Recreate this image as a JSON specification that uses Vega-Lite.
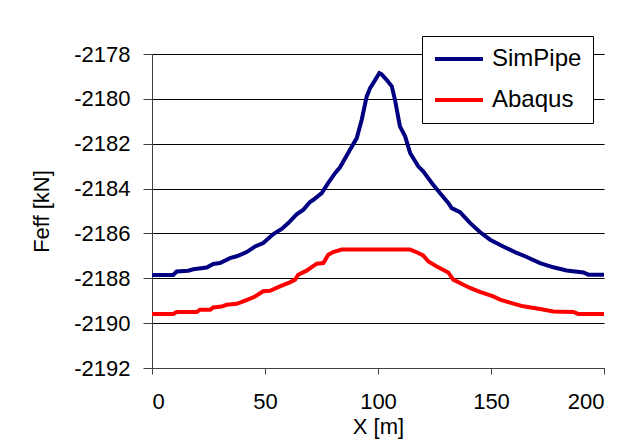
{
  "$schema": "https://vega.github.io/schema/vega-lite/v6.json",
  "autosize": "none",
  "width": 452,
  "height": 314,
  "padding": {"left": 152, "top": 54, "right": 21, "bottom": 75},
  "background": "white",
  "config": {
    "view": {"stroke": null},
    "font": "Liberation Sans",
    "axis": {"labelFont": "Liberation Sans", "titleFont": "Liberation Sans", "labelColor": "black", "titleColor": "black", "titleFontWeight": "normal"},
    "legend": {"labelFont": "Liberation Sans"}
  },
  "data": {
    "values": [
      {"x": 0, "F": -2187.85, "s": "SimPipe"},
      {"x": 9.4, "F": -2187.85, "s": "SimPipe"},
      {"x": 10.9, "F": -2187.7, "s": "SimPipe"},
      {"x": 16, "F": -2187.66, "s": "SimPipe"},
      {"x": 18.3, "F": -2187.6, "s": "SimPipe"},
      {"x": 24.2, "F": -2187.52, "s": "SimPipe"},
      {"x": 27.1, "F": -2187.36, "s": "SimPipe"},
      {"x": 30.1, "F": -2187.32, "s": "SimPipe"},
      {"x": 34.5, "F": -2187.1, "s": "SimPipe"},
      {"x": 37.5, "F": -2187.02, "s": "SimPipe"},
      {"x": 41.9, "F": -2186.83, "s": "SimPipe"},
      {"x": 45.6, "F": -2186.58, "s": "SimPipe"},
      {"x": 49.2, "F": -2186.43, "s": "SimPipe"},
      {"x": 53.7, "F": -2186.03, "s": "SimPipe"},
      {"x": 57.4, "F": -2185.8, "s": "SimPipe"},
      {"x": 60.3, "F": -2185.54, "s": "SimPipe"},
      {"x": 64, "F": -2185.15, "s": "SimPipe"},
      {"x": 67, "F": -2184.94, "s": "SimPipe"},
      {"x": 69.9, "F": -2184.6, "s": "SimPipe"},
      {"x": 71.4, "F": -2184.5, "s": "SimPipe"},
      {"x": 75.1, "F": -2184.2, "s": "SimPipe"},
      {"x": 78, "F": -2183.75, "s": "SimPipe"},
      {"x": 81, "F": -2183.31, "s": "SimPipe"},
      {"x": 83.2, "F": -2183.05, "s": "SimPipe"},
      {"x": 87.6, "F": -2182.27, "s": "SimPipe"},
      {"x": 90.6, "F": -2181.75, "s": "SimPipe"},
      {"x": 92.8, "F": -2180.93, "s": "SimPipe"},
      {"x": 95, "F": -2179.89, "s": "SimPipe"},
      {"x": 96.5, "F": -2179.52, "s": "SimPipe"},
      {"x": 98.5, "F": -2179.2, "s": "SimPipe"},
      {"x": 100.6, "F": -2178.85, "s": "SimPipe"},
      {"x": 101.5, "F": -2178.9, "s": "SimPipe"},
      {"x": 103.8, "F": -2179.15, "s": "SimPipe"},
      {"x": 106.1, "F": -2179.44, "s": "SimPipe"},
      {"x": 107.5, "F": -2180.04, "s": "SimPipe"},
      {"x": 109.7, "F": -2181.23, "s": "SimPipe"},
      {"x": 112, "F": -2181.67, "s": "SimPipe"},
      {"x": 114.2, "F": -2182.41, "s": "SimPipe"},
      {"x": 117.8, "F": -2183.01, "s": "SimPipe"},
      {"x": 120, "F": -2183.23, "s": "SimPipe"},
      {"x": 123.8, "F": -2183.75, "s": "SimPipe"},
      {"x": 127.4, "F": -2184.2, "s": "SimPipe"},
      {"x": 131.1, "F": -2184.64, "s": "SimPipe"},
      {"x": 132.6, "F": -2184.87, "s": "SimPipe"},
      {"x": 136.3, "F": -2185.05, "s": "SimPipe"},
      {"x": 140.7, "F": -2185.53, "s": "SimPipe"},
      {"x": 145.1, "F": -2185.94, "s": "SimPipe"},
      {"x": 149.6, "F": -2186.28, "s": "SimPipe"},
      {"x": 155.4, "F": -2186.58, "s": "SimPipe"},
      {"x": 161.4, "F": -2186.87, "s": "SimPipe"},
      {"x": 165.8, "F": -2187.05, "s": "SimPipe"},
      {"x": 171.7, "F": -2187.32, "s": "SimPipe"},
      {"x": 177.6, "F": -2187.51, "s": "SimPipe"},
      {"x": 183.5, "F": -2187.65, "s": "SimPipe"},
      {"x": 190.9, "F": -2187.74, "s": "SimPipe"},
      {"x": 193.1, "F": -2187.84, "s": "SimPipe"},
      {"x": 200, "F": -2187.84, "s": "SimPipe"},
      {"x": 0, "F": -2189.59, "s": "Abaqus"},
      {"x": 9.4, "F": -2189.59, "s": "Abaqus"},
      {"x": 10.9, "F": -2189.5, "s": "Abaqus"},
      {"x": 19.8, "F": -2189.5, "s": "Abaqus"},
      {"x": 21.3, "F": -2189.4, "s": "Abaqus"},
      {"x": 25.8, "F": -2189.4, "s": "Abaqus"},
      {"x": 27.1, "F": -2189.3, "s": "Abaqus"},
      {"x": 30.8, "F": -2189.26, "s": "Abaqus"},
      {"x": 33, "F": -2189.18, "s": "Abaqus"},
      {"x": 37.5, "F": -2189.14, "s": "Abaqus"},
      {"x": 40.4, "F": -2189.03, "s": "Abaqus"},
      {"x": 43.4, "F": -2188.91, "s": "Abaqus"},
      {"x": 45.6, "F": -2188.81, "s": "Abaqus"},
      {"x": 49.2, "F": -2188.58, "s": "Abaqus"},
      {"x": 52.2, "F": -2188.56, "s": "Abaqus"},
      {"x": 56.6, "F": -2188.36, "s": "Abaqus"},
      {"x": 61, "F": -2188.18, "s": "Abaqus"},
      {"x": 63.3, "F": -2188.06, "s": "Abaqus"},
      {"x": 64.7, "F": -2187.84, "s": "Abaqus"},
      {"x": 68.4, "F": -2187.66, "s": "Abaqus"},
      {"x": 72.9, "F": -2187.35, "s": "Abaqus"},
      {"x": 75.8, "F": -2187.32, "s": "Abaqus"},
      {"x": 78, "F": -2186.95, "s": "Abaqus"},
      {"x": 80.2, "F": -2186.83, "s": "Abaqus"},
      {"x": 83.9, "F": -2186.72, "s": "Abaqus"},
      {"x": 114.2, "F": -2186.72, "s": "Abaqus"},
      {"x": 117.1, "F": -2186.84, "s": "Abaqus"},
      {"x": 120, "F": -2186.98, "s": "Abaqus"},
      {"x": 122.3, "F": -2187.25, "s": "Abaqus"},
      {"x": 126, "F": -2187.47, "s": "Abaqus"},
      {"x": 131.1, "F": -2187.74, "s": "Abaqus"},
      {"x": 133.3, "F": -2188.06, "s": "Abaqus"},
      {"x": 136.3, "F": -2188.21, "s": "Abaqus"},
      {"x": 140.7, "F": -2188.43, "s": "Abaqus"},
      {"x": 145.1, "F": -2188.61, "s": "Abaqus"},
      {"x": 151, "F": -2188.81, "s": "Abaqus"},
      {"x": 154, "F": -2188.95, "s": "Abaqus"},
      {"x": 159.9, "F": -2189.13, "s": "Abaqus"},
      {"x": 164.3, "F": -2189.25, "s": "Abaqus"},
      {"x": 171.7, "F": -2189.37, "s": "Abaqus"},
      {"x": 177.6, "F": -2189.48, "s": "Abaqus"},
      {"x": 186.4, "F": -2189.5, "s": "Abaqus"},
      {"x": 188.6, "F": -2189.59, "s": "Abaqus"},
      {"x": 200, "F": -2189.59, "s": "Abaqus"}
    ]
  },
  "mark": {"type": "line", "strokeWidth": 4, "interpolate": "linear"},
  "encoding": {
    "x": {
      "field": "x", "type": "quantitative",
      "scale": {"domain": [0, 200], "nice": false},
      "axis": {
        "title": "X [m]", "values": [0, 50, 100, 150, 200],
        "grid": false, "domainColor": "#404040", "tickColor": "#404040",
        "tickSize": 6, "labelPadding": 17, "labelFontSize": 22,
        "titleFontSize": 22, "titlePadding": 4
      }
    },
    "y": {
      "field": "F", "type": "quantitative",
      "scale": {"domain": [-2192, -2178], "nice": false, "zero": false},
      "axis": {
        "title": "Feff [kN]", "values": [-2192, -2190, -2188, -2186, -2184, -2182, -2180, -2178],
        "labelExpr": "'' + datum.value",
        "grid": true, "gridColor": "black", "gridWidth": 1, "gridOpacity": 1,
        "domainColor": "#404040", "tickColor": "#404040",
        "tickSize": 9, "labelPadding": 13, "labelFontSize": 22,
        "titleFontSize": 22, "titlePadding": 20
      }
    },
    "color": {
      "field": "s", "type": "nominal",
      "scale": {"domain": ["SimPipe", "Abaqus"], "range": ["#000080", "#FF0000"]},
      "sort": ["SimPipe", "Abaqus"],
      "legend": {
        "title": null, "orient": "none", "legendX": 270, "legendY": -18,
        "strokeColor": "black", "fillColor": "white", "padding": 11,
        "symbolType": "stroke", "symbolSize": 2304, "symbolStrokeWidth": 4,
        "clipHeight": 24, "rowPadding": 17, "labelOffset": 7,
        "labelFontSize": 24, "labelColor": "black"
      }
    }
  }
}
